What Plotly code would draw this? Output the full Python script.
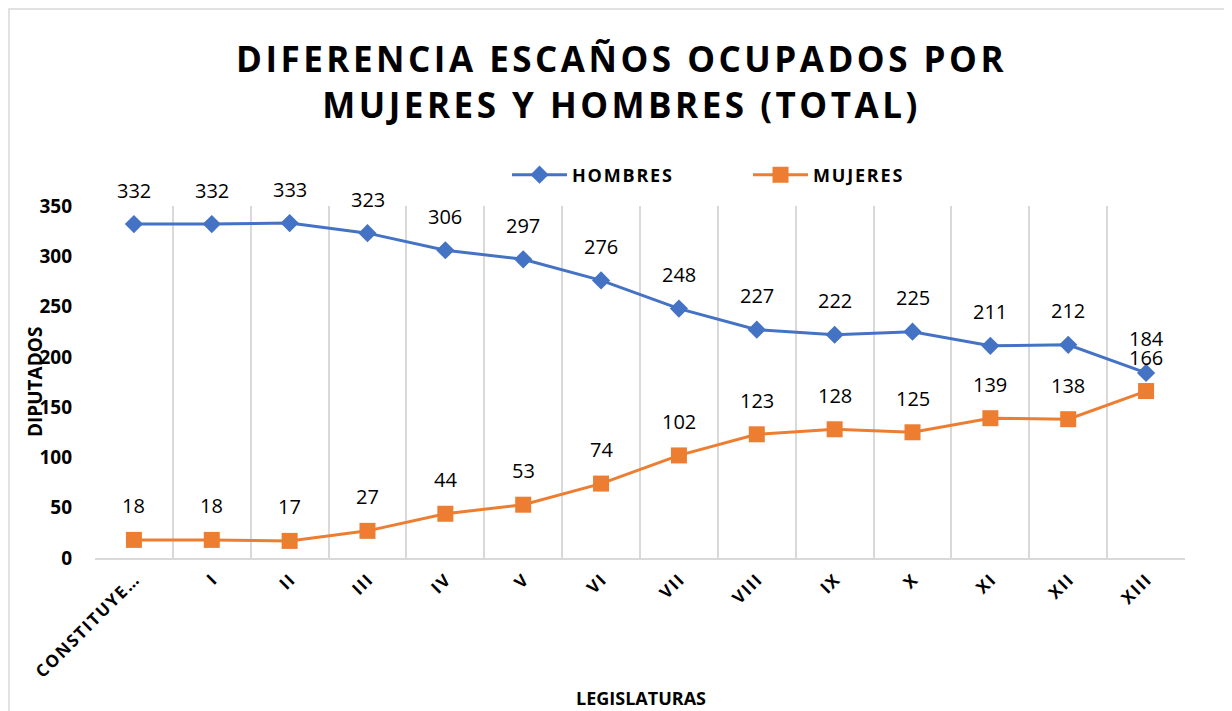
import plotly.graph_objects as go

categories = ["CONSTITUYE…", "I", "II", "III", "IV", "V", "VI", "VII", "VIII", "IX", "X", "XI", "XII", "XIII"]
hombres = [332, 332, 333, 323, 306, 297, 276, 248, 227, 222, 225, 211, 212, 184]
mujeres = [18, 18, 17, 27, 44, 53, 74, 102, 123, 128, 125, 139, 138, 166]
y_ticks = [0, 50, 100, 150, 200, 250, 300, 350]

BLUE = "#4472C4"
ORANGE = "#ED7D31"
GRID = "#D9D9D9"
FONT = "Open Sans"
HS = "\u200a"  # hair space used as letter spacing


def spaced(s):
    return HS.join(list(s))


xs = list(range(len(categories)))

fig = go.Figure()
fig.add_trace(go.Scatter(
    x=xs, y=hombres, name=spaced("HOMBRES"), mode="lines+markers",
    line=dict(color=BLUE, width=3),
    marker=dict(symbol="diamond", size=14, color=BLUE),
))
fig.add_trace(go.Scatter(
    x=xs, y=mujeres, name=spaced("MUJERES"), mode="lines+markers",
    line=dict(color=ORANGE, width=3),
    marker=dict(symbol="square", size=16, color=ORANGE),
))

annotations = []
for series in (hombres, mujeres):
    for x, v in zip(xs, series):
        annotations.append(dict(
            x=x, y=v, xref="x", yref="y", text=str(v), showarrow=False,
            yshift=34, font=dict(family=FONT, size=20, color="#000000"),
        ))

# Title
title_lines = ["DIFERENCIA ESCAÑOS OCUPADOS POR", "MUJERES Y HOMBRES (TOTAL)"]
annotations.append(dict(
    x=0.4817, y=1.355, xref="paper", yref="paper", xanchor="center", yanchor="middle",
    text="<b>" + "<br>".join(spaced(t) for t in title_lines) + "</b>",
    showarrow=False, align="center",
    font=dict(family=FONT, size=35, color="#000000"),
))
# Axis titles
annotations.append(dict(
    x=-0.055, y=0.5, xref="paper", yref="paper", xanchor="center", yanchor="middle",
    text="<b>DIPUTADOS</b>", textangle=-90, showarrow=False,
    font=dict(family=FONT, size=19, color="#000000"),
))
annotations.append(dict(
    x=0.501, y=-0.398, xref="paper", yref="paper", xanchor="center", yanchor="middle",
    text="<b>LEGISLATURAS</b>", showarrow=False,
    font=dict(family=FONT, size=18, color="#000000"),
))

# The page places the figure 8px in from the top-left corner, so the figure is 8px smaller
fig.update_layout(
    width=1224, height=703,
    margin=dict(l=87, r=47, t=198, b=153),
    paper_bgcolor="white", plot_bgcolor="white",
    showlegend=True,
    legend=dict(
        orientation="h", x=0.378, y=1.088, xanchor="left", yanchor="middle",
        font=dict(family=FONT, size=18, color="#000000", weight="bold"),
        itemwidth=55,
        entrywidth=171, entrywidthmode="pixels",
        bgcolor="rgba(0,0,0,0)",
    ),
    annotations=annotations,
    shapes=[dict(
        type="rect", xref="paper", yref="paper",
        x0=(9 - 95) / 1090, x1=(1231 - 95) / 1090,
        y0=(558 - 720) / 352, y1=(558 - 9) / 352,
        line=dict(color=GRID, width=1.5), fillcolor="rgba(0,0,0,0)", layer="below",
    )],
)

fig.update_xaxes(
    range=[-0.5, len(categories) - 0.5],
    tickmode="array", tickvals=xs, ticktext=[spaced(c) for c in categories],
    tickangle=-45, showgrid=False, zeroline=False,
    showline=True, linecolor=GRID, linewidth=1.5,
    ticks="", ticklabelstandoff=4,
    tickfont=dict(family=FONT, size=17, color="#000000", weight="bold"),
    minor=dict(tickmode="array", tickvals=[i - 0.5 for i in range(len(categories) + 1)],
               showgrid=True, gridcolor=GRID, gridwidth=1.5, ticks=""),
)
fig.update_yaxes(
    range=[0, 350], tickmode="array", tickvals=y_ticks,
    showgrid=False, zeroline=False, showline=False,
    ticks="", ticklabelstandoff=22,
    tickfont=dict(family=FONT, size=19, color="#000000", weight="bold"),
)

fig.write_html("out.html")
